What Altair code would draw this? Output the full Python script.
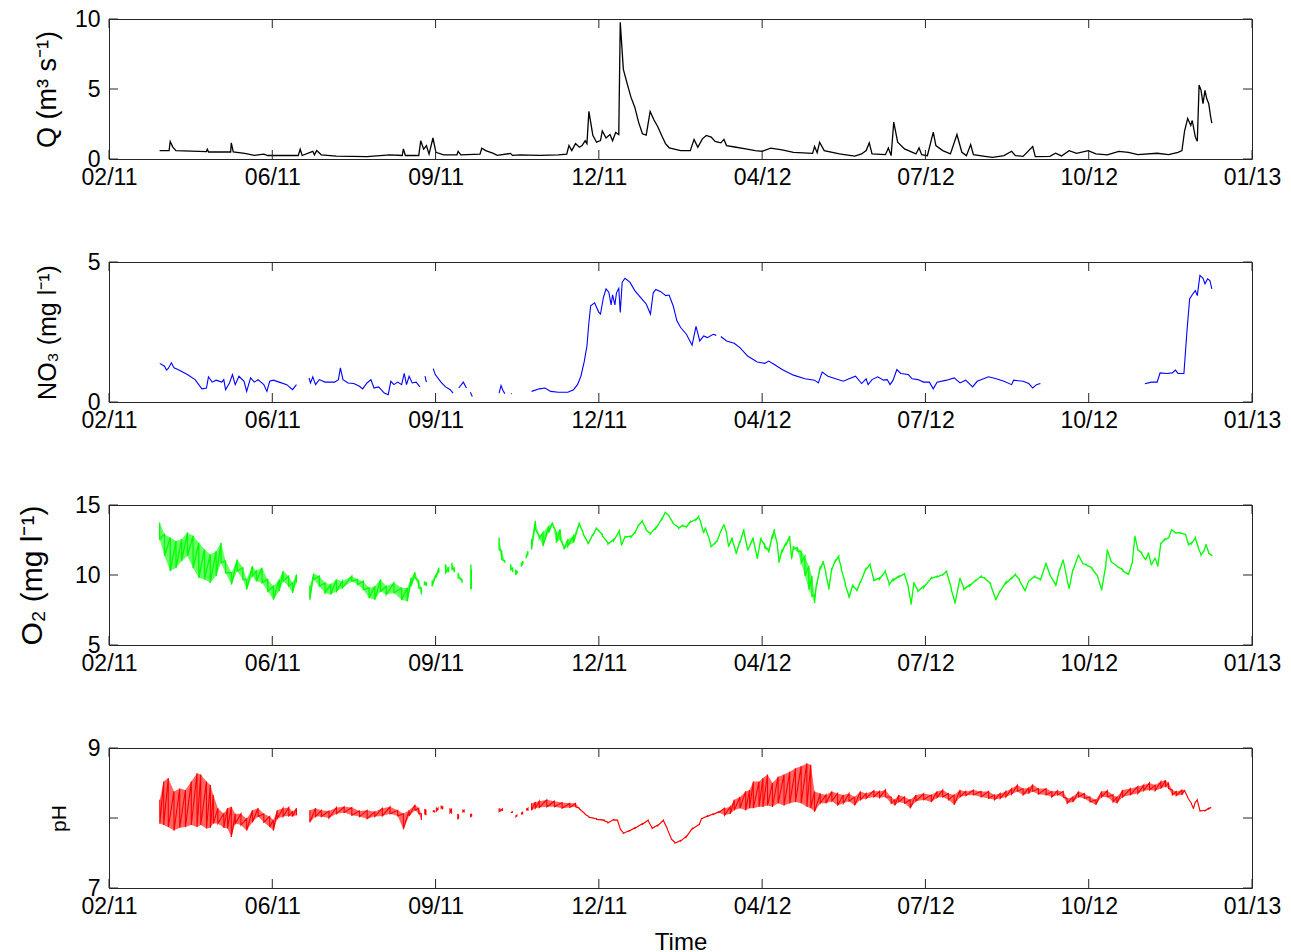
import json
import altair as alt
import pandas as pd

# Time axis in days counted from 27 Feb 2011, ticked every 100 days
TICK_DAYS = [0, 100, 200, 300, 400, 500, 600, 700]
TICK_LABELS = ["02/11", "06/11", "09/11", "12/11", "04/12", "07/12", "10/12", "01/13"]

# Discharge Q (m3 s-1)
q_day = [
    31, 36.8, 37.5, 39.1, 41, 59.7, 60.2, 61, 74.5, 74.9,
    76.1, 83.1, 89, 94.8, 97.2, 100, 115.9, 117.1, 118.3, 124.8,
    125.8, 127.2, 130, 139.3, 158, 172, 179.6, 180.3, 181.5, 189.7,
    190.9, 192.7, 194.4, 196, 198.4, 200.2, 204.9, 213.1, 213.8, 215.5,
    227.2, 228.3, 230.7, 235.4, 237.7, 245.9, 247.1, 251.8, 263.5, 275.2,
    280.3, 281.7, 283.4, 285.7, 288.1, 289.7, 291.6, 292.7, 293.9, 296.3,
    298.6, 301, 302.1, 304.4, 306.8, 308.4, 310.3, 312.2, 313.1, 315,
    317.3, 319.7, 322, 324.4, 326.7, 329, 331.4, 333.7, 336.1, 338.4,
    340.8, 343.1, 350.1, 356, 358.3, 360.6, 363.4, 365.8, 368.8, 371.2,
    374.7, 376.6, 378.2, 384.1, 389.9, 395.8, 400, 405.2, 412.2, 419.2,
    430.9, 432.1, 433.7, 435.2, 438, 447.3, 456.7, 460.9, 463.7, 465.6,
    467.3, 475.5, 477.3, 479, 480.6, 483, 487.2, 494.2, 496.1, 497.7,
    501.2, 504.8, 506.4, 510.6, 515.3, 519.3, 522.3, 525.1, 527.7, 529.4,
    536.4, 541.1, 548.1, 552.8, 555.1, 559.8, 565.7, 567.3, 576.2, 579.7,
    583.3, 588, 592.6, 599.7, 604.4, 611.4, 618.4, 624.3, 630.1, 641.9,
    648.9, 654.7, 657.1, 658.7, 660.6, 662.5, 663.4, 665.3, 666.5, 667.6,
    668.8, 670, 671.2, 672.3, 673.5, 674.7, 675.4,
]
q_val = [
    0.6, 0.6, 1.25, 0.85, 0.6, 0.53, 0.7, 0.5, 0.5, 1.15,
    0.5, 0.4, 0.26, 0.35, 0.25, 0.25, 0.25, 0.7, 0.25, 0.55,
    0.3, 0.6, 0.3, 0.2, 0.17, 0.3, 0.25, 0.72, 0.25, 0.25,
    1.3, 0.7, 0.95, 0.35, 1.5, 0.48, 0.3, 0.3, 0.55, 0.3,
    0.35, 0.77, 0.6, 0.4, 0.26, 0.4, 0.26, 0.3, 0.26, 0.3,
    0.35, 0.96, 0.6, 1.1, 0.84, 0.96, 1.3, 1.1, 3.4, 1.7,
    1.2, 1.32, 2.0, 1.5, 1.75, 1.3, 1.9, 1.75, 9.76, 6.4,
    5.4, 4.4, 3.7, 2.6, 1.8, 1.7, 3.4, 2.8, 2.3, 1.7,
    1.1, 0.8, 0.6, 0.6, 1.4, 0.84, 1.44, 1.68, 1.56, 1.25,
    1.15, 1.4, 0.96, 0.84, 0.72, 0.6, 0.55, 0.77, 0.65, 0.48,
    0.4, 0.89, 0.45, 1.2, 0.6, 0.36, 0.2, 0.36, 0.6, 1.15,
    0.36, 0.31, 0.79, 0.24, 2.64, 1.2, 0.72, 0.36, 0.79, 0.31,
    0.24, 1.92, 0.96, 0.6, 0.36, 1.75, 0.48, 0.24, 1.03, 0.31,
    0.19, 0.12, 0.24, 0.55, 0.24, 0.19, 0.89, 0.17, 0.19, 0.41,
    0.22, 0.6, 0.41, 0.6, 0.36, 0.29, 0.55, 0.48, 0.31, 0.41,
    0.31, 0.48, 0.6, 2.0, 2.9, 2.4, 2.75, 1.56, 1.27, 5.28,
    4.9, 3.96, 4.9, 4.3, 3.96, 3.0, 2.57,
]

# Nitrate NO3 (mg l-1); None marks a break in the record
no3_day = [
    31.1, 34, 35.2, 36.3, 38.2, 39.8, 42.2, 48, 52.7, 56.9,
    59.7, 60.9, 63.2, 65.6, 69.1, 70.3, 71.4, 73.8, 75.6, 77.3,
    79.6, 82.7, 84.3, 86.7, 89, 91.3, 94.8, 96.7, 98.4, 100.7,
    104.2, 108.9, 112.4, 114.8, 118,
    122.5, 123.4, 124.8, 126.5, 128.8, 132.3, 138.2, 140.5, 141.7, 143.3,
    146.4, 149.9, 153.4, 155.3, 158, 160.4, 162.3, 165.1, 168.6, 171,
    172.6, 174.5, 176.8, 179.2, 180.8, 182.2, 183.8, 185.7, 188.1, 190.4, 192,
    193.5, 194.4, 196, 198.6, 199.8, 203.3, 206.1, 209, 210.7, 212.5,
    214.2, 217, 218.9, 220, 221.3, 222.5, 230,
    238.9, 240.1, 241.2, 242.4, 244, 246.4, 246.8, 250,
    258.8, 263.5, 267, 270.5, 275.2, 281, 284.5, 286.9, 289, 291,
    292.7, 293.9, 295, 297.4, 299.8, 301, 302.8, 304.4, 306.1, 307.5,
    308.4, 309.8, 310.8, 312.2, 313.1, 314.3, 316, 319, 322, 327.2,
    329, 331.6, 333.3, 334.9, 337.9, 341, 343, 345.5, 347.8, 350.1,
    353.6, 357.1, 359.5, 361.8, 364.2, 366.5, 370, 371.9, 373,
    374.7, 378.2, 382.9, 386.4, 391.1, 397, 401.6, 404, 407.5, 412.2,
    419.2, 426.2, 432.1, 434.4, 436.8, 440.3, 445, 449.7, 453.2, 457.2,
    460.9, 463.7, 464.9, 467.3, 470.8, 474.3, 476.6, 478.3, 480.2, 482.5,
    484.9, 489.5, 491.9, 495.4, 498.9, 502.4, 504.8, 507.1, 513, 517.6,
    521.2, 524.7, 528.9, 531.7, 538.7, 543.4, 548.1, 552.8, 554, 559.8,
    563.3, 565.7, 568, 570.4, 600,
    634.4, 638.4, 641.9, 643.7, 647.7, 651.2, 653.1, 654.7, 658.3, 660.1,
    661.8, 663.4, 665.3, 666.5, 668.1, 670, 671.2, 672.8, 674.2, 675.4,
]
no3_val = [
    1.38, 1.28, 1.14, 1.2, 1.4, 1.22, 1.16, 0.98, 0.8, 0.47,
    0.5, 0.9, 0.71, 0.78, 0.71, 0.8, 0.44, 0.68, 0.98, 0.62,
    0.92, 0.74, 0.38, 0.86, 0.71, 0.8, 0.62, 0.38, 0.74, 0.78,
    0.71, 0.62, 0.44, 0.62, None,
    0.86, 0.68, 0.9, 0.62, 0.8, 0.71, 0.71, 0.8, 1.22, 0.8,
    0.68, 0.66, 0.56, 0.47, 0.68, 0.8, 0.5, 0.54, 0.32, 0.26,
    0.74, 0.62, 0.71, 0.62, 1.02, 0.62, 0.92, 0.68, 0.71, 0.54, None,
    0.92, 0.71, None, 1.19, 0.98, 0.71, 0.54, 0.44, 0.32, None,
    0.5, 0.71, 0.5, None, 0.35, 0.2, None,
    0.32, 0.59, 0.42, 0.3, None, 0.3, 0.3, None,
    0.38, 0.47, 0.5, 0.38, 0.35, 0.35, 0.44, 0.62, 0.92, 1.43,
    2.0, 2.84, 3.44, 3.54, 3.22, 3.14, 3.74, 4.04, 3.92, 3.47,
    3.83, 3.47, 3.9, 4.06, 3.2, 4.28, 4.42, 4.28, 3.98, 3.62,
    3.5, 3.14, 3.9, 4.02, 3.94, 3.8, 3.82, 3.44, 2.9, 2.66,
    2.42, 2.03, 2.7, 2.18, 2.36, 2.3, 2.42, 2.38, None,
    2.34, 2.18, 2.1, 1.94, 1.64, 1.43, 1.38, 1.46, 1.34, 1.16,
    0.96, 0.83, 0.78, 0.68, 1.07, 0.92, 0.83, 0.74, 0.83, 0.92,
    0.66, 0.83, 0.62, 0.8, 0.9, 0.78, 0.8, 0.62, 0.78, 1.16,
    1.02, 0.98, 0.83, 0.8, 0.71, 0.71, 0.47, 0.71, 0.78, 0.86,
    0.68, 0.78, 0.54, 0.74, 0.9, 0.83, 0.74, 0.62, 0.78, 0.74,
    0.66, 0.5, 0.62, 0.66, None,
    0.65, 0.71, 0.71, 1.04, 1.02, 1.04, 1.14, 1.02, 1.02, 2.48,
    3.68, 3.83, 3.98, 3.8, 4.52, 4.42, 4.22, 4.4, 4.34, 4.04,
]

# Dissolved oxygen O2 (mg l-1): low and high of the daily swing
o2_day = [
    31, 34, 37.5, 41, 44.5, 48, 51.5, 55, 58.5, 62,
    65.6, 68.6, 71.4, 75, 78.5, 82, 84.3, 87.8, 90.2, 93.7,
    97.2, 100.7, 104.2, 106.6, 110, 112.4, 114.8, 118, 123, 125.3,
    128.8, 132.3, 135.8, 139.3, 142.9, 148.7, 152.2, 155.7, 159.3, 162.8,
    166.3, 169.8, 174.5, 179.2, 182.7, 185, 187.4, 189.7, 191.3, 192.5,
    193.2, 194.4, 195.5, 197.9, 200.2, 202, 204, 206.1, 208, 209,
    210, 211.5, 212.7, 213.8, 216.2, 219, 221.6, 221.9, 230, 238.9,
    240.5, 242.4, 244, 246, 247.2, 248, 249, 250, 251, 252.5,
    253.5, 254.5, 255.5, 256.5, 257.5, 258.8, 261.1, 263.5, 265.8, 269.3,
    271.7, 274, 276.3, 278.7, 281, 284.5, 288.1, 290.4, 293.4, 296.3,
    298.6, 302.1, 305.6, 309.1, 312.6, 313.8, 316.2, 319.7, 322, 324.4,
    326.7, 329, 331.4, 334.9, 338.4, 340.8, 343.1, 345.3, 348.9, 351.3,
    353.6, 355.9, 359.5, 361.1, 362.5, 364.1, 365.3, 367.7, 368.8, 371.2,
    372.3, 374.7, 376.6, 378.2, 379.4, 381.7, 384.1, 386.4, 388.8, 391.1,
    394.6, 397, 399.3, 401.6, 404, 406.3, 407.5, 409.4, 410.3, 412.2,
    414.5, 416.9, 418, 419.2, 421.6, 423.9, 426.2, 428.6, 430.5, 432.1,
    433.3, 435.6, 437.5, 439.1, 440.8, 442.7, 445, 446.9, 448.5, 450.9,
    453.2, 455.5, 457.9, 460.2, 463.7, 466.1, 468.4, 471.9, 475.5, 477.8,
    480.1, 483.7, 487.2, 489.5, 491.2, 493, 495.4, 498.9, 503.6, 507.1,
    510.6, 513, 515.8, 518.1, 521.2, 523.5, 527, 530.5, 534.1, 536.4,
    539.9, 543, 545.8, 549.3, 552.8, 555.1, 557.5, 561, 563.3, 566.9,
    570.4, 573.9, 576.2, 579.8, 582.1, 584.4, 586.8, 588, 590.3, 593.8,
    596.2, 598.5, 602, 605.5, 607.9, 610.2, 611.4, 613.7, 617.3, 620.8,
    624.3, 626.6, 628.3, 630.1, 632.5, 634.8, 636.7, 638.3, 640.7, 642.3,
    644.2, 646.5, 648.9, 650.8, 653.1, 655.9, 659.4, 661.1, 663, 665.3,
    667.2, 668.8, 670.4, 671.9, 673.5, 675.4,
]
o2_lo = [
    12.55, 11.35, 10.28, 10.5, 11.0, 11.35, 10.5, 9.8, 9.68, 9.44,
    9.92, 10.87, 10.16, 9.32, 10.28, 9.68, 8.96, 9.92, 9.56, 9.44,
    8.84, 8.24, 8.84, 9.56, 9.2, 8.72, 9.44, None, 8.24, 9.68,
    9.2, 8.72, 8.6, 8.84, 9.08, 9.56, 9.32, 8.96, 8.36, 8.24,
    8.84, 8.6, 8.72, 8.24, 8.12, 9.2, 9.8, 9.08, 8.6, None,
    9.32, 9.2, None, 9.2, 9.8, 10.16, None, 10.16, 10.2, None,
    10.4, 10.2, None, 9.8, 9.44, None, 8.96, 9.0, None, 11.83,
    11.1, 10.87, None, 10.4, 10.2, None, 10.0, 10.1, None, 10.6,
    10.76, None, 11.2, 11.4, None, 11.83, 13.27, 12.6, 12.07, 13.03,
    13.6, 12.31, 12.55, 11.83, 12.07, 12.31, 13.6, 12.9, 12.2, 12.8,
    13.3, 12.8, 12.2, 12.45, 13.05, 12.1, 12.7, 12.7, 12.95, 13.55,
    13.8, 13.2, 12.92, 13.32, 13.92, 14.45, 14.17, 13.7, 13.33, 13.5,
    13.42, 13.75, 13.94, 14.13, 13.7, 12.98, 13.33, 12.5, 12.02, 12.26,
    12.38, 13.1, 13.58, 12.98, 12.02, 12.5, 11.5, 12.3, 13.1, 11.75,
    12.5, 11.15, 12.5, 11.95, 11.6, 12.6, 13.05, 11.95, 10.88, 11.6,
    12.1, 12.55, 11.12, 11.85, 11.7, 10.88, 9.92, 8.96, 8.48, 8.0,
    9.2, 10.4, 10.9, 10.0, 8.96, 10.4, 11.0, 11.2, 10.4, 9.3,
    8.36, 9.2, 8.84, 9.44, 10.4, 10.7, 9.6, 9.7, 10.2, 9.3,
    9.6, 9.85, 10.05, 9.1, 7.88, 9.4, 8.84, 9.1, 9.75, 9.85,
    10.0, 10.2, 8.96, 7.95, 9.75, 8.96, 9.2, 9.56, 9.85, 9.75,
    9.3, 8.19, 8.84, 9.4, 9.75, 10.0, 9.6, 8.84, 9.56, 9.85,
    9.6, 10.8, 10.0, 9.2, 10.3, 11.05, 9.6, 9.0, 10.3, 11.4,
    10.8, 10.7, 10.45, 9.85, 8.9, 10.4, 11.78, 10.95, 10.6, 10.3,
    10.0, 10.8, 12.75, 11.78, 11.5, 11.05, 11.5, 10.7, 11.2, 10.6,
    12.25, 12.5, 12.62, 13.22, 13.0, 13.0, 12.85, 12.15, 12.25, 12.62,
    11.9, 11.42, 11.65, 12.15, 11.55, 11.35,
]
o2_hi = [
    13.75, 12.9, 12.67, 12.43, 12.55, 13.03, 12.8, 12.3, 11.83, 11.47,
    11.7, 12.3, 11.0, 10.16, 11.1, 10.52, 9.68, 10.64, 10.28, 10.52,
    9.68, 9.2, 9.68, 10.28, 9.92, 9.44, 10.04, None, 9.25, 10.1,
    9.92, 9.44, 9.32, 9.68, 9.56, 9.92, 9.68, 9.56, 9.08, 9.2,
    9.68, 9.2, 9.44, 9.08, 9.08, 9.8, 10.2, 9.56, 9.08, None,
    9.56, 9.44, None, 9.6, 10.04, 10.52, None, 10.76, 10.5, None,
    10.87, 10.5, None, 10.16, 9.68, None, 10.75, 10.4, None, 12.67,
    11.7, 11.0, None, 10.76, 10.5, None, 10.4, 10.3, None, 10.9,
    11.0, None, 11.4, 11.7, None, 12.55, 13.87, 12.8, 13.03, 13.51,
    13.75, 13.03, 13.27, 12.0, 12.55, 12.79, 13.75, 13.03, 12.31, 12.91,
    13.39, 12.91, 12.31, 12.55, 13.15, 12.19, 12.79, 12.79, 13.03, 13.63,
    13.87, 13.27, 12.99, 13.39, 13.99, 14.52, 14.23, 13.75, 13.39, 13.56,
    13.47, 13.8, 13.99, 14.18, 13.75, 13.03, 13.39, 12.55, 12.07, 12.31,
    12.43, 13.15, 13.63, 13.03, 12.07, 12.67, 11.59, 12.43, 13.27, 11.83,
    12.67, 11.23, 12.67, 12.19, 11.83, 12.91, 13.27, 12.19, 11.1, 11.83,
    12.31, 12.79, 11.3, 12.07, 11.95, 11.71, 11.35, 10.64, 9.92, 8.6,
    9.44, 10.64, 11.0, 10.16, 9.1, 10.52, 11.1, 11.35, 10.52, 9.44,
    8.5, 9.32, 8.96, 9.56, 10.52, 10.76, 9.68, 9.8, 10.28, 9.4,
    9.7, 9.92, 10.1, 9.2, 8.0, 9.5, 8.9, 9.2, 9.8, 9.92,
    10.04, 10.28, 9.08, 8.05, 9.8, 9.08, 9.3, 9.6, 9.92, 9.8,
    9.4, 8.3, 8.9, 9.5, 9.8, 10.04, 9.7, 8.9, 9.6, 9.92,
    9.7, 10.87, 10.04, 9.3, 10.4, 11.1, 9.68, 9.08, 10.4, 11.47,
    10.87, 10.76, 10.52, 9.92, 8.96, 10.52, 11.83, 11.0, 10.64, 10.4,
    10.04, 10.87, 12.8, 11.83, 11.6, 11.1, 11.6, 10.76, 11.23, 10.64,
    12.3, 12.55, 12.67, 13.27, 13.03, 13.03, 12.9, 12.2, 12.3, 12.67,
    11.95, 11.47, 11.7, 12.2, 11.6, 11.4,
]

# pH: low and high of the daily swing
ph_day = [
    31.1, 33.5, 36.3, 39.8, 43.3, 46.8, 50.4, 53.9, 56.2, 59.7,
    62.1, 63.9, 66.7, 70.3, 72.6, 74.9, 77.3, 80.8, 84.3, 87.8,
    91.3, 94.8, 98.4, 100.7, 103, 106.6, 110.1, 112.4, 114.8, 118,
    123, 126.5, 130, 134.7, 139.3, 144, 148.7, 153.4, 158.1, 162.8,
    167.4, 172.1, 176.8, 180.3, 183.8, 187.4, 189.7, 191.3, 192.5, 193.4,
    194.1, 195.5, 198.6, 199.4, 200, 200.5, 201.5, 202.5, 203.4, 204.4,
    206, 208.8, 209.8, 211, 213.6, 214.1, 215, 216.7, 217.5, 219,
    221.4, 222.1, 230, 238.9, 241, 243, 246.4, 247, 248, 249.2,
    249.8, 251, 252.6, 253.3, 254.5, 255.8, 256.6, 257.5, 258.8, 261.1,
    263.5, 268.1, 272.8, 277.5, 282.2, 285.7, 288.1, 291.6, 293.9, 298.6,
    303.3, 305.6, 309.1, 311.5, 313.1, 315, 318.5, 322, 326.7, 330.2,
    332.6, 336.1, 339.6, 341.9, 344.3, 346.6, 350.1, 353.6, 357.1, 361.4,
    363, 366.5, 370, 373.5, 377, 380.5, 382.9, 386.4, 389.9, 392.3,
    394.6, 398.1, 400.5, 403.3, 406.3, 409.8, 413.4, 416.9, 420.4, 423.9,
    427.4, 429.8, 432.1, 435.6, 439.1, 442.7, 446.2, 449.7, 453.2, 456.7,
    460.2, 463.7, 468.4, 471.9, 475.5, 479, 481.3, 483.7, 487.2, 490.7,
    494.2, 498.9, 503.6, 507.1, 510.6, 514.1, 517.6, 521.2, 524.7, 529.4,
    534.1, 538.7, 542.3, 545.8, 549.3, 552.8, 556.3, 559.8, 563.3, 565.7,
    569.2, 573.9, 577.4, 580.9, 584.4, 586.8, 590.3, 593.8, 597.3, 600.8,
    604.4, 607.9, 611.4, 614.9, 617.3, 620.8, 625.5, 630.1, 633.7, 637.2,
    640.7, 644.2, 647, 648.9, 651.2, 653.6, 657.1, 658.7, 660.6, 662.9,
    664.1, 665.3, 666.5, 668.1, 671.2, 673.5, 674.7,
]
ph_lo = [
    7.92, 7.9, 7.87, 7.82, 7.86, 7.87, 7.9, 7.87, 7.9, 7.85,
    7.86, 7.92, 7.92, 7.86, 7.85, 7.73, 7.92, 7.9, 7.82, 7.94,
    8.02, 7.94, 7.87, 7.82, 7.99, 8.02, 8.03, 8.02, 8.04, None,
    7.94, 8.02, 8.02, 8.0, 8.06, 8.08, 8.04, 8.02, 7.99, 8.02,
    8.03, 8.06, 8.03, 7.84, 8.03, 8.11, 8.06, 7.97, None, 8.05,
    8.04, None, 8.09, 8.08, None, 8.1, 8.11, None, 8.14, 8.12,
    None, 8.08, 8.06, None, 7.98, 7.99, None, 8.09, 8.08, None,
    8.01, 8.02, None, 8.09, 8.1, None, 8.08, 8.07, None, 8.02,
    8.02, None, 8.06, 8.05, None, 8.12, 8.1, None, 8.11, 8.14,
    8.15, 8.16, 8.16, 8.14, 8.15, 8.16, 8.13, 8.05, 8.01, 7.98,
    7.96, 7.93, 7.97, 7.96, 7.84, 7.78, 7.81, 7.85, 7.91, 7.96,
    7.85, 7.89, 7.96, 7.84, 7.7, 7.64, 7.67, 7.73, 7.84, 7.9,
    7.99, 8.02, 8.05, 8.08, 8.04, 8.06, 8.11, 8.14, 8.11, 8.14,
    8.14, 8.16, 8.16, 8.18, 8.16, 8.21, 8.18, 8.21, 8.23, 8.21,
    8.16, 8.14, 8.09, 8.21, 8.21, 8.24, 8.18, 8.21, 8.24, 8.18,
    8.26, 8.28, 8.3, 8.29, 8.3, 8.21, 8.18, 8.23, 8.21, 8.14,
    8.24, 8.26, 8.23, 8.29, 8.3, 8.26, 8.19, 8.3, 8.32, 8.33,
    8.3, 8.28, 8.26, 8.28, 8.3, 8.34, 8.38, 8.33, 8.35, 8.38,
    8.34, 8.33, 8.3, 8.33, 8.3, 8.21, 8.23, 8.3, 8.28, 8.23,
    8.19, 8.3, 8.3, 8.23, 8.21, 8.3, 8.33, 8.35, 8.39, 8.4,
    8.39, 8.42, 8.45, 8.42, 8.33, 8.32, 8.33, 8.39, 8.29, 8.2,
    8.13, 8.22, 8.25, 8.1, 8.1, 8.13, 8.14,
]
ph_hi = [
    8.26, 8.52, 8.57, 8.38, 8.42, 8.4, 8.52, 8.64, 8.62, 8.52,
    8.47, 8.33, 8.14, 8.06, 8.14, 8.16, 8.06, 8.06, 7.99, 8.11,
    8.14, 8.06, 8.02, 7.97, 8.11, 8.14, 8.15, 8.09, 8.14, None,
    8.11, 8.14, 8.11, 8.1, 8.15, 8.16, 8.15, 8.1, 8.11, 8.09,
    8.14, 8.16, 8.11, 8.06, 8.11, 8.19, 8.14, 8.06, None, 8.13,
    8.12, None, 8.11, 8.1, None, 8.15, 8.14, None, 8.18, 8.16,
    None, 8.14, 8.12, None, 8.06, 8.05, None, 8.12, 8.11, None,
    8.06, 8.06, None, 8.14, 8.13, None, 8.09, 8.09, None, 8.04,
    8.04, None, 8.08, 8.08, None, 8.14, 8.14, None, 8.21, 8.23,
    8.24, 8.26, 8.24, 8.22, 8.21, 8.21, 8.14, 8.06, 8.02, 7.99,
    7.97, 7.94, 7.98, 7.97, 7.85, 7.79, 7.82, 7.86, 7.92, 7.97,
    7.86, 7.9, 7.97, 7.85, 7.71, 7.65, 7.68, 7.74, 7.85, 7.91,
    8.0, 8.03, 8.06, 8.09, 8.14, 8.16, 8.26, 8.3, 8.38, 8.4,
    8.52, 8.52, 8.57, 8.62, 8.5, 8.59, 8.62, 8.66, 8.71, 8.74,
    8.78, 8.76, 8.38, 8.35, 8.33, 8.38, 8.35, 8.33, 8.35, 8.3,
    8.38, 8.35, 8.39, 8.38, 8.4, 8.3, 8.26, 8.33, 8.3, 8.26,
    8.33, 8.35, 8.33, 8.38, 8.4, 8.35, 8.33, 8.4, 8.38, 8.4,
    8.38, 8.38, 8.33, 8.35, 8.38, 8.42, 8.47, 8.42, 8.43, 8.48,
    8.42, 8.42, 8.38, 8.39, 8.38, 8.28, 8.3, 8.38, 8.35, 8.3,
    8.26, 8.38, 8.39, 8.33, 8.3, 8.4, 8.42, 8.45, 8.47, 8.5,
    8.47, 8.52, 8.54, 8.5, 8.4, 8.38, 8.4, 8.4, 8.3, 8.21,
    8.14, 8.23, 8.26, 8.11, 8.11, 8.14, 8.15,
]

assert len(q_day) == len(q_val)
assert len(no3_day) == len(no3_val)
assert len(o2_day) == len(o2_lo) == len(o2_hi)
assert len(ph_day) == len(ph_lo) == len(ph_hi)

W, H = 1143, 140
TICK_LEN = 9
FRAME = "#262626"
FONT = "Liberation Sans"
LABEL_EXPR = f"{json.dumps(TICK_LABELS)}[indexof({json.dumps(TICK_DAYS)}, datum.value)]"


def path_frame(days, lo, hi):
    """Points of the trace; each reading visits its high then its low."""
    rows, seg, k = [], 0, 0
    for d, a, b in zip(days, lo, hi):
        if a is None:
            seg += 1
            continue
        for v in ((b, a) if b != a else (a,)):
            rows.append({"day": d, "v": v, "seg": seg, "k": k})
            k += 1
    return pd.DataFrame(rows)


def band_frame(days, lo, hi):
    rows, seg = [], 0
    for d, a, b in zip(days, lo, hi):
        if a is None:
            seg += 1
            continue
        rows.append({"day": d, "v": a, "v2": b, "seg": seg})
    return pd.DataFrame(rows)


def panel(y_dom, y_ticks, title, title_size, title_x, color, days, lo, hi,
          band=False, x_title="", stroke=1.1):
    x = alt.X(
        "day:Q",
        scale=alt.Scale(domain=[0, 700], nice=False, zero=False),
        axis=alt.Axis(values=TICK_DAYS, labelExpr=LABEL_EXPR, title=x_title,
                      titleFontSize=24, titleY=54, titleBaseline="middle",
                      labelPadding=7),
    )
    y = alt.Y(
        "v:Q",
        scale=alt.Scale(domain=y_dom, nice=False, zero=False),
        axis=alt.Axis(values=y_ticks, format="d", title=title, titleFontSize=title_size,
                      titleX=title_x, titleY=H / 2, titleAlign="center",
                      titleBaseline="middle", labelPadding=9),
    )
    layers = []
    if band:
        layers.append(
            alt.Chart(band_frame(days, lo, hi))
            .mark_area(color=color, opacity=0.6, interpolate="linear")
            .encode(x=x, y=y, y2="v2:Q", detail="seg:N")
        )
    layers.append(
        alt.Chart(path_frame(days, lo, hi))
        .mark_line(color=color, strokeWidth=stroke)
        .encode(x=x, y=y, detail="seg:N", order="k:Q")
    )
    xt = pd.DataFrame({"day": TICK_DAYS})
    yt = pd.DataFrame({"v": y_ticks})
    layers += [
        alt.Chart(xt).mark_rule(color=FRAME).encode(x=x, y=alt.value(H), y2=alt.value(H - TICK_LEN)),
        alt.Chart(xt).mark_rule(color=FRAME).encode(x=x, y=alt.value(0), y2=alt.value(TICK_LEN)),
        alt.Chart(yt).mark_rule(color=FRAME).encode(y=y, x=alt.value(0), x2=alt.value(TICK_LEN)),
        alt.Chart(yt).mark_rule(color=FRAME).encode(y=y, x=alt.value(W - TICK_LEN), x2=alt.value(W)),
    ]
    return alt.layer(*layers).properties(width=W, height=H)


p_q = panel([0, 10], [0, 5, 10], "Q (m³ s⁻¹)", 27, -62, "black", q_day, q_val, q_val, stroke=1.3)
p_no3 = panel([0, 5], [0, 5], "NO₃ (mg l⁻¹)", 25, -62, "#0000ff", no3_day, no3_val, no3_val)
p_o2 = panel([5, 15], [5, 10, 15], "O₂ (mg l⁻¹)", 30, -77, "#00ff00", o2_day, o2_lo, o2_hi,
             band=True, stroke=1.3)
p_ph = panel([7, 9], [7, 8, 9], "pH", 21, -50, "#ff0000", ph_day, ph_lo, ph_hi, band=True,
             x_title="Time")

chart = (
    alt.vconcat(p_q, p_no3, p_o2, p_ph, spacing=103, bounds="flush")
    .properties(padding={"left": 16, "top": 7, "right": 5, "bottom": 5}, background="white")
    .configure_view(stroke=FRAME, strokeWidth=1)
    .configure_axis(
        ticks=False, domain=False, grid=False,
        labelFont=FONT, labelFontSize=23, labelColor="black",
        labelFlush=False, labelOverlap=False,
        titleFont=FONT, titleFontWeight="normal", titleColor="black",
    )
)

chart.save("out.html", embed_options={"renderer": "svg", "actions": False})
